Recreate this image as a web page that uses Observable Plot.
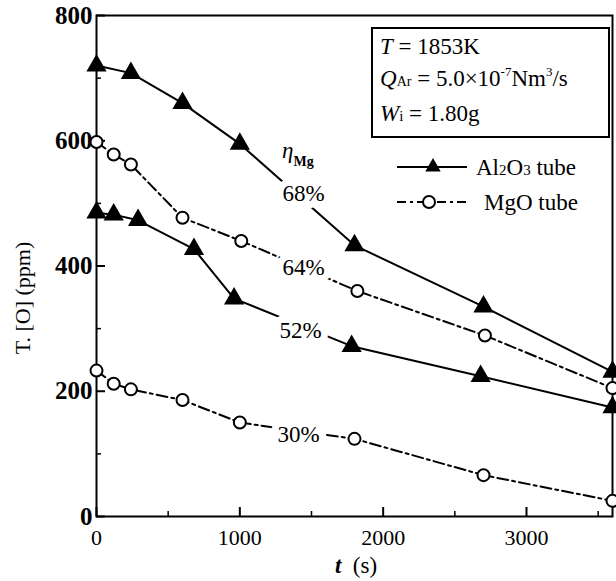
<!DOCTYPE html>
<html><head><meta charset="utf-8">
<script src="https://cdn.jsdelivr.net/npm/d3@7"></script>
<script src="https://cdn.jsdelivr.net/npm/@observablehq/plot@0.6"></script>
<style>
body{margin:0;background:#fff}
svg, svg text{font-family:"Liberation Serif","Times New Roman",serif}
</style>
</head><body><div id="chart"></div>
<script>
// ---- data ----
const tAl68 = [0, 240, 600, 1000, 1800, 2700, 3600];
const oAl68 = [720, 708, 660, 595, 433, 335, 231];
const tAl52 = [0, 120, 290, 680, 960, 1780, 2680, 3600];
const oAl52 = [485, 482, 473, 427, 348, 272, 224, 174];
const tMg64 = [0, 120, 240, 600, 1010, 1820, 2710, 3600];
const oMg64 = [598, 578, 562, 477, 440, 360, 289, 205];
const tMg30 = [0, 120, 240, 600, 1000, 1800, 2700, 3600];
const oMg30 = [233, 212, 203, 186, 150, 124, 66, 25];

const effLabels = ["68%", "64%", "52%", "30%"];
const effT = [1444, 1444, 1423, 1409];
const effO = [516, 398, 297, 131];

const xMajor = [0, 1000, 2000, 3000];
const xMinor = [500, 1500, 2500, 3500];
const yMajor = [0, 200, 400, 600, 800];
const yMinor = [100, 300, 500, 700];

function rowsOf(series, ts, os) { return ts.map((t, i) => ({series, t, o: os[i]})); }
const al = [...rowsOf("Al68", tAl68, oAl68), ...rowsOf("Al52", tAl52, oAl52)];
const mg = [...rowsOf("Mg64", tMg64, oMg64), ...rowsOf("Mg30", tMg30, oMg30)];
const eff = effLabels.map((s, i) => ({s, t: effT[i], o: effO[i]}));

const dash = "11,4,3,4";
const FF = "Liberation Serif";

const chart = Plot.plot({
  width: 616, height: 581,
  marginLeft: 96, marginRight: 4, marginTop: 15, marginBottom: 65,
  style: "font-family: 'Liberation Serif', serif; background: white; color: black; overflow: visible;",
  x: {domain: [0, 3600]},
  y: {domain: [0, 800]},
  marks: [
    Plot.frame({stroke: "black", strokeWidth: 2}),
    Plot.axisX(xMajor, {tickSize: -9, tickPadding: 22, fontSize: 22, fontFamily: FF, tickFormat: d => String(d), strokeWidth: 2, label: null}),
    Plot.axisX(xMinor, {tickSize: -5, tickFormat: () => "", strokeWidth: 1.5, label: null}),
    Plot.axisY(yMajor, {tickSize: -9, tickPadding: 13, fontSize: 25, fontFamily: FF, fontWeight: "bold", tickFormat: d => String(d), strokeWidth: 2, label: null}),
    Plot.axisY(yMinor, {tickSize: -5, tickFormat: () => "", strokeWidth: 1.5, label: null}),
    Plot.line(al, {x: "t", y: "o", z: "series", stroke: "black", strokeWidth: 2}),
    Plot.line(mg, {x: "t", y: "o", z: "series", stroke: "black", strokeWidth: 2, strokeDasharray: dash}),
    Plot.text(eff, {x: "t", y: "o", text: "s", fontSize: 23, fontFamily: FF, fill: "black", stroke: "white", strokeWidth: 14}),
    Plot.dot(al, {x: "t", y: "o", symbol: "triangle", fill: "black", r: 7.5}),
    Plot.dot(mg, {x: "t", y: "o", symbol: "circle", fill: "white", stroke: "black", strokeWidth: 2, r: 6})
  ]
});
document.getElementById("chart").appendChild(chart);

// ---- annotations, info box and legend ----
const svg = d3.select(chart);
const g = svg.append("g").attr("font-family", FF).attr("fill", "black").attr("text-anchor", "start");

// axis titles
g.append("text").attr("transform", "translate(30,298) rotate(-90)")
  .attr("text-anchor", "middle").attr("font-size", 22).text("T. [O] (ppm)");
const xt = g.append("text").attr("x", 356).attr("y", 573).attr("text-anchor", "middle").attr("font-size", 23);
xt.append("tspan").attr("font-style", "italic").attr("font-weight", "bold").text("t");
xt.append("tspan").text("\u2002(s)");

// eta label
const eta = g.append("text").attr("x", 282).attr("y", 158).attr("font-size", 23);
eta.append("tspan").attr("font-style", "italic").text("\u03b7");
eta.append("tspan").attr("dy", 8).attr("font-size", 14).attr("font-weight", "bold").text("Mg");

// info box
g.append("rect").attr("x", 372).attr("y", 28).attr("width", 237).attr("height", 109)
  .attr("fill", "white").attr("stroke", "black").attr("stroke-width", 2);
const fs = 23;
const l1 = g.append("text").attr("x", 380).attr("y", 54).attr("font-size", fs);
l1.append("tspan").attr("font-style", "italic").text("T");
l1.append("tspan").text(" = 1853K");
const l2 = g.append("text").attr("x", 380).attr("y", 86).attr("font-size", fs);
l2.append("tspan").attr("font-style", "italic").text("Q");
l2.append("tspan").attr("font-size", 14).text("Ar");
l2.append("tspan").text(" = 5.0\u00d710");
l2.append("tspan").attr("font-size", 13).attr("dy", -10).text("-7");
l2.append("tspan").attr("dy", 10).text("Nm");
l2.append("tspan").attr("font-size", 13).attr("dy", -10).text("3");
l2.append("tspan").attr("dy", 10).text("/s");
const l3 = g.append("text").attr("x", 380).attr("y", 121).attr("font-size", fs);
l3.append("tspan").attr("font-style", "italic").text("W");
l3.append("tspan").attr("font-size", 15).text("i");
l3.append("tspan").text(" = 1.80g");

// legend
g.append("line").attr("x1", 397).attr("x2", 467).attr("y1", 167).attr("y2", 167)
  .attr("stroke", "black").attr("stroke-width", 2);
g.append("path").attr("d", d3.symbol(d3.symbolTriangle2, 170)()).attr("transform", "translate(433,167)").attr("fill", "black");
const a = g.append("text").attr("x", 476).attr("y", 175).attr("font-size", fs);
a.append("tspan").text("Al");
a.append("tspan").attr("font-size", 15).text("2");
a.append("tspan").text("O");
a.append("tspan").attr("font-size", 15).text("3");
a.append("tspan").text(" tube");
g.append("line").attr("x1", 397).attr("x2", 467).attr("y1", 202).attr("y2", 202)
  .attr("stroke", "black").attr("stroke-width", 2).attr("stroke-dasharray", "9,4,3,4");
g.append("circle").attr("cx", 429).attr("cy", 202).attr("r", 6).attr("fill", "white")
  .attr("stroke", "black").attr("stroke-width", 2);
g.append("text").attr("x", 484).attr("y", 210).attr("font-size", fs).text("MgO tube");
</script>
</body></html>
